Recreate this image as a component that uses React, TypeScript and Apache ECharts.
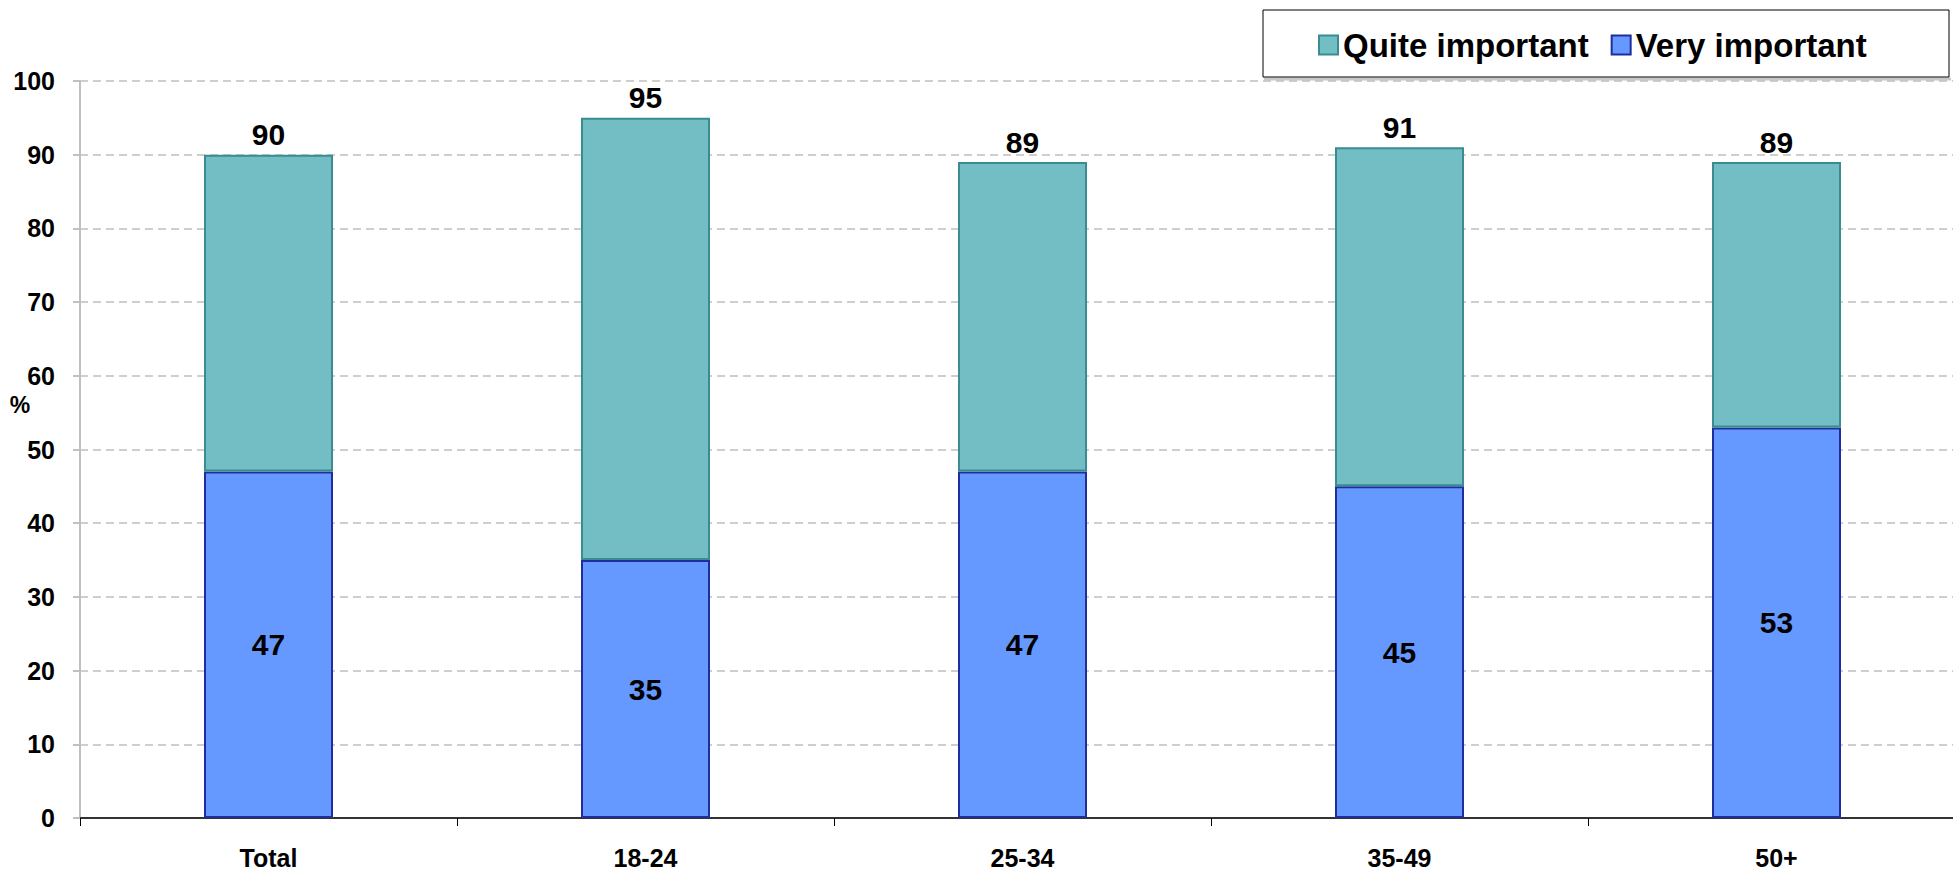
import React, { useEffect, useRef } from "react";
import * as echarts from "echarts";

const categories = ["Total", "18-24", "25-34", "35-49", "50+"];
const veryImportant = [47, 35, 47, 45, 53];
const quiteImportant = [43, 60, 42, 46, 36];
const totals = [90, 95, 89, 91, 89];
const yTicks = { min: 0, max: 100, interval: 10 };

export default function App() {
  const ref = useRef<HTMLDivElement>(null);
  useEffect(() => {
    if (!ref.current) return;
    const chart = echarts.init(ref.current, undefined, { renderer: "svg" });
    const font = "'Liberation Sans', Arial, sans-serif";
    chart.setOption({
      animation: false,
      backgroundColor: "#ffffff",
      textStyle: { fontFamily: font },
      grid: { left: 80, top: 81, width: 1885, height: 737, containLabel: false },
      legend: {
        data: ["Quite important", "Very important"],
        left: 1313,
        top: 23,
        itemWidth: 19,
        itemHeight: 19,
        itemGap: 22,
        icon: "rect",
        textStyle: { fontSize: 33, fontWeight: "bold", color: "#000", fontFamily: font, lineHeight: 34 },
      },
      graphic: [
        {
          type: "rect",
          shape: { x: 1263, y: 10, width: 686, height: 67 },
          style: { fill: "none", stroke: "#000", lineWidth: 1 },
          z: 1,
        },
        {
          type: "line",
          shape: { x1: 1264, y1: 79, x2: 1951, y2: 79 },
          style: { stroke: "#c8c8c8", lineWidth: 3 },
          z: 0,
        },
        {
          type: "text",
          x: 20,
          y: 405,
          style: {
            text: "%",
            fontSize: 23,
            fontWeight: "bold",
            fill: "#000",
            fontFamily: font,
            align: "center",
            verticalAlign: "middle",
          },
        },
      ],
      xAxis: {
        type: "category",
        data: categories,
        axisLine: { show: true, lineStyle: { color: "#333", width: 2 } },
        axisTick: { show: true, length: 8, lineStyle: { color: "#000", width: 1 } },
        axisLabel: { fontSize: 25, fontWeight: "bold", color: "#000", margin: 27, fontFamily: font },
        splitLine: { show: false },
      },
      yAxis: {
        type: "value",
        min: yTicks.min,
        max: yTicks.max,
        interval: yTicks.interval,
        axisLine: { show: true, lineStyle: { color: "#c0c0c0", width: 2 } },
        axisTick: { show: true, length: 7, lineStyle: { color: "#c0c0c0", width: 2 } },
        axisLabel: { fontSize: 25, fontWeight: "bold", color: "#000", margin: 25, fontFamily: font },
        splitLine: { show: true, lineStyle: { color: "#bfbfbf", type: [8, 5], width: 1.5 } },
      },
      series: [
        {
          name: "Very important",
          type: "bar",
          stack: "total",
          data: veryImportant,
          barWidth: 129,
          itemStyle: { color: "#6699ff", borderColor: "#1f2e9a", borderWidth: 2 },
          label: {
            show: true,
            position: "inside",
            fontSize: 30,
            fontWeight: "bold",
            color: "#000",
            fontFamily: font,
          },
        },
        {
          name: "Quite important",
          type: "bar",
          stack: "total",
          data: quiteImportant,
          barWidth: 129,
          itemStyle: { color: "#72bec4", borderColor: "#3a8c91", borderWidth: 2 },
          label: {
            show: true,
            position: "top",
            distance: 5,
            fontSize: 30,
            fontWeight: "bold",
            color: "#000",
            fontFamily: font,
            formatter: (p: any) => String(totals[p.dataIndex]),
          },
        },
      ],
    });
    return () => chart.dispose();
  }, []);
  return (
    <div style={{ position: "absolute", left: 0, top: 0, width: 1953, height: 872, overflow: "hidden" }}>
      <div ref={ref} style={{ width: 1975, height: 872 }} />
    </div>
  );
}
